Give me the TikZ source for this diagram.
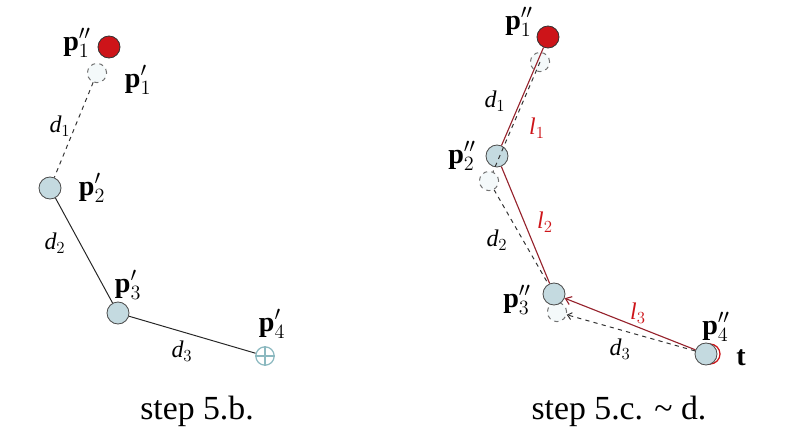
\documentclass[tikz,border=0pt]{standalone}
\usepackage{fontspec}
\setmainfont{Liberation Serif}
\usetikzlibrary{arrows.meta}
\definecolor{jointfill}{RGB}{196,218,224}
\definecolor{jointred}{RGB}{205,20,25}
\definecolor{linkred}{RGB}{150,35,45}
\definecolor{goalcol}{RGB}{140,185,192}
\definecolor{ghostfill}{RGB}{244,249,250}
\tikzset{
  joint/.style={
    shape = circle,
    draw = black!70,
    fill = jointfill,
    minimum size = 0.55cm,
    inner sep = 0pt,
    line width = 0.6pt
  },
  endjoint/.style={
    joint,
    fill = jointred,
    draw = black!80
  },
  ghost/.style={
    shape = circle,
    draw = black!55,
    dashed,
    fill = ghostfill,
    minimum size = 0.48cm,
    inner sep = 0pt,
    line width = 0.7pt
  },
  goal/.style={
    shape = circle,
    draw = goalcol,
    minimum size = 0.46cm,
    inner sep = 0pt,
    line width = 0.9pt
  },
}
\tikzset{
  ptlabel/.style={
    font = \rmfamily\fontsize{20}{22}\selectfont,
    inner sep = 1pt
  },
  lenlabel/.style={
    font = \rmfamily\fontsize{17}{20}\selectfont,
    inner sep = 1pt
  },
  redlabel/.style={
    lenlabel,
    text = jointred
  },
  link/.style={
    draw = linkred,
    line width = 0.8pt
  },
  dlink/.style={
    draw = black!80,
    dashed,
    line width = 0.7pt
  },
  steplabel/.style={
    font = \rmfamily\fontsize{24}{28}\selectfont
  }
}

\begin{document}
\begin{tikzpicture}[x=0.025cm, y=-0.025cm]
    \useasboundingbox (0,0) rectangle (790,441);

    % step 5.b.
    \node[ghost] (a1) at (97,73) {};
    \node[endjoint] (a0) at (109,47) {};
    \node[joint] (a2) at (50,188) {};
    \node[joint] (a3) at (118,313) {};
    \node[goal] (a4) at (265,356) {};
    \draw[goalcol, line width=0.9pt] (a4.north) -- (a4.south) (a4.west) -- (a4.east);

    \draw[dlink] (a1) -- (a2);
    \draw[black!85, line width=0.7pt] (a2) -- (a3);
    \draw[black!85, line width=0.7pt] (a3) -- (a4);

    \node[ptlabel] (a0l) at (77,43) {\textbf{p}$''_{1}$};
    \node[ptlabel] (a1l) at (138,80) {\textbf{p}$'_{1}$};
    \node[ptlabel] (a2l) at (92,188) {\textbf{p}$'_{2}$};
    \node[ptlabel] (a3l) at (128,285) {\textbf{p}$'_{3}$};
    \node[ptlabel] (a4l) at (272,324) {\textbf{p}$'_{4}$};
    \node[lenlabel] (ad1) at (60,126) {$\mathit{d}_{1}$};
    \node[lenlabel] (ad2) at (55,243) {$\mathit{d}_{2}$};
    \node[lenlabel] (ad3) at (182,351) {$\mathit{d}_{3}$};

    \node[steplabel] (capb) at (197,411) {step 5.b.};

    % step 5.c. ~ d.
    \node[ghost] (g1) at (540,62) {};
    \node[ghost] (g2) at (489,181) {};
    \node[ghost] (g3) at (557,312) {};
    \node[shape=circle, draw=jointred, minimum size=0.5cm, inner sep=0pt, line width=0.9pt] (t) at (710,354) {};
    \node[endjoint] (b1) at (548,37) {};
    \node[joint] (b2) at (497,156) {};
    \node[joint] (b3) at (554,294) {};
    \node[joint] (b4) at (706,354) {};

    \draw[link] (b1) -- (b2);
    \draw[link] (b2) -- (b3);
    \draw[link, -{Straight Barb[length=4pt, width=6pt]}] (b4) -- (b3);
    \draw[dlink] (g1.center) -- (g2);
    \draw[dlink] (g2) -- (b3);
    \draw[dlink, -{Straight Barb[length=3pt, width=5pt]}] (b4) -- (g3);

    \node[ptlabel] (b1l) at (519,22) {\textbf{p}$''_{1}$};
    \node[ptlabel] (b2l) at (462,156) {\textbf{p}$''_{2}$};
    \node[ptlabel] (b3l) at (517,300) {\textbf{p}$''_{3}$};
    \node[ptlabel] (b4l) at (716,327) {\textbf{p}$''_{4}$};
    \node[ptlabel] (tl) at (741,358) {\textbf{t}};
    \node[lenlabel] (bd1) at (495,101) {$\mathit{d}_{1}$};
    \node[lenlabel] (bd2) at (497,240) {$\mathit{d}_{2}$};
    \node[lenlabel] (bd3) at (620,349) {$\mathit{d}_{3}$};
    \node[redlabel] (bl1) at (537,128) {$\mathit{l}_{1}$};
    \node[redlabel] (bl2) at (545,222) {$\mathit{l}_{2}$};
    \node[redlabel] (bl3) at (638,313) {$\mathit{l}_{3}$};

    \node[steplabel] (capcd) at (619,411) {step 5.c. \textasciitilde{} d.};
\end{tikzpicture}
\end{document}
